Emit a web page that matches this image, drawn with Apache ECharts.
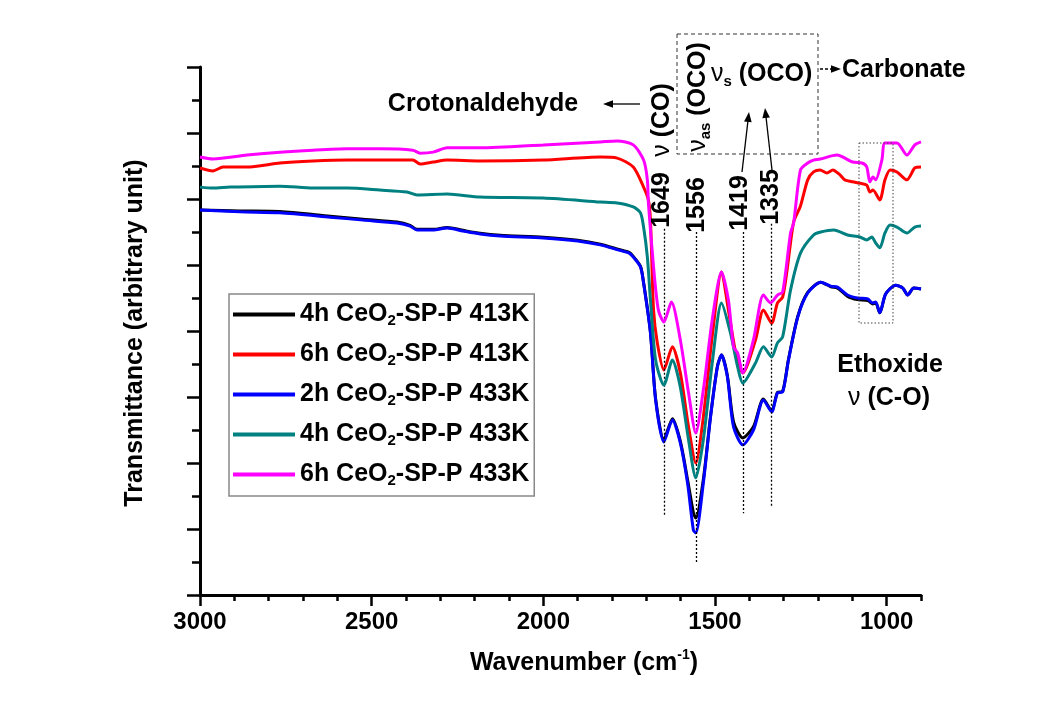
<!DOCTYPE html>
<html>
<head>
<meta charset="utf-8">
<script src="https://cdn.jsdelivr.net/npm/echarts@6/dist/echarts.min.js"></script>
<style>
html,body{margin:0;padding:0;background:#fff;}
#chart{width:1055px;height:707px;}
</style>
</head>
<body>
<div id="chart"></div>
<script>
// ---------- data (wavenumber cm-1, transmittance arbitrary units) ----------
const seriesNames = ['4h CeO2-SP-P 413K', '6h CeO2-SP-P 413K', '2h CeO2-SP-P 433K', '4h CeO2-SP-P 433K', '6h CeO2-SP-P 433K'];
const seriesColors = ['#000000', '#ff0000', '#0000ff', '#008080', '#ff00ff'];

const wnBlue = [3000, 2883, 2767, 2621, 2525, 2426, 2388, 2368, 2321, 2280, 2234, 2184, 2125, 2000, 1900, 1834, 1780, 1750, 1738, 1717, 1708, 1688, 1673, 1649, 1624, 1601, 1580, 1563, 1556, 1534, 1513, 1493, 1481, 1464, 1446, 1419, 1388, 1359, 1335, 1318, 1303, 1286, 1259, 1230, 1192, 1163, 1143, 1114, 1085, 1055, 1041, 1032, 1020, 1003, 974, 953, 939, 921, 900];
const tBlack = [11.67, 11.64, 11.62, 11.48, 11.39, 11.30, 11.20, 11.08, 11.08, 11.14, 11.05, 10.96, 10.90, 10.84, 10.75, 10.63, 10.47, 10.38, 10.26, 9.96, 9.47, 7.96, 5.95, 4.70, 5.34, 4.66, 3.50, 2.50, 2.33, 3.50, 5.42, 6.93, 7.27, 6.65, 5.25, 4.76, 5.10, 5.94, 5.58, 6.14, 6.17, 7.14, 8.44, 9.17, 9.48, 9.34, 9.30, 9.05, 8.95, 8.92, 8.82, 8.85, 8.55, 9.12, 9.39, 9.30, 9.09, 9.30, 9.27];
const tBlue = [11.67, 11.61, 11.58, 11.45, 11.36, 11.27, 11.18, 11.06, 11.06, 11.12, 11.03, 10.94, 10.88, 10.82, 10.73, 10.61, 10.45, 10.36, 10.24, 9.94, 9.45, 7.94, 5.91, 4.64, 5.30, 4.61, 3.39, 1.97, 1.88, 3.39, 5.39, 6.91, 7.27, 6.61, 5.09, 4.55, 5.00, 5.91, 5.55, 6.12, 6.15, 7.12, 8.42, 9.15, 9.48, 9.36, 9.33, 9.09, 9.00, 8.97, 8.85, 8.88, 8.55, 9.12, 9.39, 9.30, 9.09, 9.30, 9.27];

const wnRed = [3000, 2962, 2933, 2863, 2767, 2671, 2571, 2476, 2380, 2359, 2321, 2280, 2184, 2000, 1834, 1785, 1738, 1708, 1694, 1688, 1679, 1668, 1649, 1624, 1601, 1577, 1556, 1534, 1507, 1481, 1461, 1440, 1419, 1382, 1359, 1335, 1318, 1303, 1290, 1271, 1251, 1230, 1213, 1194, 1174, 1157, 1136, 1122, 1099, 1078, 1058, 1049, 1040, 1020, 1005, 990, 970, 941, 918, 900];
const tRed = [12.94, 12.85, 12.97, 12.97, 13.09, 13.15, 13.18, 13.18, 13.18, 13.06, 13.12, 13.18, 13.15, 13.18, 13.27, 13.24, 12.97, 12.36, 11.97, 11.36, 8.64, 7.64, 6.82, 7.52, 6.73, 5.09, 4.00, 5.39, 7.94, 9.79, 8.64, 7.36, 6.73, 7.73, 8.64, 8.24, 8.85, 9.03, 9.85, 11.30, 11.79, 12.58, 12.82, 12.88, 12.79, 12.88, 12.73, 12.58, 12.52, 12.48, 12.42, 12.21, 12.27, 11.97, 12.58, 12.88, 12.82, 12.58, 12.94, 12.97];

const wnTeal = [3000, 2962, 2913, 2767, 2671, 2571, 2476, 2397, 2368, 2280, 2184, 2000, 1834, 1785, 1738, 1717, 1708, 1697, 1688, 1673, 1649, 1624, 1601, 1577, 1556, 1534, 1507, 1481, 1455, 1434, 1419, 1382, 1359, 1335, 1318, 1303, 1280, 1251, 1213, 1192, 1154, 1114, 1078, 1058, 1043, 1034, 1020, 1005, 990, 970, 941, 918, 900];
const tTeal = [12.36, 12.33, 12.36, 12.39, 12.33, 12.33, 12.27, 12.21, 12.12, 12.15, 12.06, 12.03, 11.91, 11.88, 11.76, 11.58, 11.15, 10.24, 8.94, 7.12, 6.36, 7.12, 6.30, 4.70, 3.55, 4.70, 7.12, 8.85, 7.94, 6.91, 6.42, 7.03, 7.52, 7.21, 7.64, 7.82, 9.24, 10.36, 10.91, 11.00, 11.06, 10.91, 10.85, 10.76, 10.85, 10.70, 10.52, 10.97, 11.21, 11.15, 10.97, 11.15, 11.18];

const wnMagenta = [3000, 2962, 2863, 2767, 2671, 2571, 2476, 2380, 2359, 2321, 2280, 2184, 2000, 1834, 1785, 1738, 1708, 1697, 1694, 1679, 1665, 1649, 1627, 1601, 1577, 1556, 1534, 1507, 1481, 1461, 1446, 1434, 1419, 1388, 1359, 1338, 1318, 1303, 1280, 1271, 1251, 1230, 1213, 1194, 1145, 1099, 1072, 1058, 1049, 1040, 1032, 1014, 1005, 970, 941, 918, 900];
const tMagenta = [13.27, 13.21, 13.33, 13.42, 13.48, 13.52, 13.52, 13.48, 13.39, 13.42, 13.55, 13.55, 13.64, 13.73, 13.76, 13.64, 13.18, 12.58, 11.88, 9.94, 8.64, 8.27, 8.88, 7.73, 6.12, 4.91, 6.21, 8.42, 9.79, 8.94, 7.52, 7.33, 6.73, 7.73, 9.09, 8.85, 9.09, 9.18, 10.97, 11.27, 12.88, 13.09, 13.18, 13.21, 13.33, 13.12, 13.09, 12.97, 12.52, 12.67, 12.58, 13.18, 13.70, 13.70, 13.33, 13.64, 13.73];

// peak markers: wavenumber and vertical extent (data units) of dotted guide lines
const peakWn = [1649, 1556, 1419, 1335];
const peakTop = [11.1, 11.0, 11.0, 11.25];
const peakBottom = [2.42, 1.0, 2.48, 2.67];
const peakLabels = ['1649', '1556', '1419', '1335'];

// tick values
const xMajorTicks = [1000, 1500, 2000, 2500, 3000];
const xMinorTicks = [900, 1000, 1100, 1200, 1300, 1400, 1500, 1600, 1700, 1800, 1900, 2000, 2100, 2200, 2300, 2400, 2500, 2600, 2700, 2800, 2900, 3000];

// ---------- chart ----------
const FF = '"Liberation Sans", Arial, Helvetica, sans-serif';
const zip = (a, b) => a.map((w, i) => [w, b[i]]);
const seriesData = [zip(wnBlue, tBlack), zip(wnRed, tRed), zip(wnBlue, tBlue), zip(wnTeal, tTeal), zip(wnMagenta, tMagenta)];

const chart = echarts.init(document.getElementById('chart'), null, {renderer: 'canvas'});

function arrow(x1, y1, x2, y2, dash) {
  const a = Math.atan2(y2 - y1, x2 - x1);
  const L = 10, W = 3.8;
  const c = Math.cos(a), s = Math.sin(a);
  const bx = x2 - L * c, by = y2 - L * s;
  return [
    {type: 'line', z: 100, shape: {x1: x1, y1: y1, x2: bx + 2 * c, y2: by + 2 * s},
     style: {stroke: '#000', lineWidth: 1.3, lineDash: dash || null}},
    {type: 'polygon', z: 100, shape: {points: [[x2, y2], [bx - W * s, by + W * c], [bx + W * s, by - W * c]]},
     style: {fill: '#000'}}
  ];
}

function txt(x, y, text, opts) {
  opts = opts || {};
  return {
    type: 'text', z: 100, x: x, y: y, rotation: opts.rot || 0,
    style: Object.assign({
      text: text, fill: '#000', font: 'bold 25px ' + FF,
      align: opts.align || 'center', verticalAlign: 'middle'
    }, opts.style || {})
  };
}

const richNu = {
  n: {fontFamily: FF, fontWeight: 'normal', fontSize: 25, fill: '#000', lineHeight: 30},
  m: {fontFamily: FF, fontWeight: 'bold', fontSize: 25, fill: '#000', lineHeight: 30},
  s: {fontFamily: FF, fontWeight: 'bold', fontSize: 15, fill: '#000', lineHeight: 15, verticalAlign: 'bottom'}
};

const graphics = [];
// axis titles
graphics.push(txt(135, 333, 'Transmittance (arbitrary unit)', {rot: Math.PI / 2}));
graphics.push({
  type: 'text', z: 100, x: 584, y: 663,
  style: {text: '{t|Wavenumber (cm}{sup|-1}{t|)}', align: 'center', verticalAlign: 'middle',
    rich: {t: {fontFamily: FF, fontWeight: 'bold', fontSize: 25, fill: '#000', lineHeight: 30},
           sup: {fontFamily: FF, fontWeight: 'bold', fontSize: 14, fill: '#000', lineHeight: 14, verticalAlign: 'top'}}}
});
// Crotonaldehyde
graphics.push(txt(483, 104, 'Crotonaldehyde'));
graphics.push(...arrow(640, 104, 603, 104));
// nu(CO)
graphics.push({type: 'text', z: 100, x: 662, y: 120, rotation: Math.PI / 2,
  style: {text: '{n|ν}{m| (CO)}', align: 'center', verticalAlign: 'middle', rich: richNu}});
// peak labels
const peakLabelPx = [[662, 200], [697, 205], [740, 203], [771, 197]];
peakLabels.forEach((l, i) => graphics.push(txt(peakLabelPx[i][0], peakLabelPx[i][1], l, {rot: Math.PI / 2})));
// carbonate box
graphics.push({type: 'rect', z: 90, shape: {x: 677, y: 34, width: 141, height: 120},
  style: {fill: 'none', stroke: '#333', lineWidth: 1, lineDash: [4, 3]}});
graphics.push({type: 'text', z: 100, x: 698, y: 97, rotation: Math.PI / 2,
  style: {text: '{n|ν}{s|as}{m| (OCO)}', align: 'center', verticalAlign: 'middle', rich: richNu}});
graphics.push({type: 'text', z: 100, x: 711, y: 74,
  style: {text: '{n|ν}{s|s}{m| (OCO)}', align: 'left', verticalAlign: 'middle', rich: richNu}});
graphics.push(...arrow(742, 172, 749, 112));
graphics.push(...arrow(772, 170, 765, 108));
graphics.push(...arrow(820, 69, 841, 69, [3, 2]));
graphics.push(txt(842, 70, 'Carbonate', {align: 'left'}));
// ethoxide box
graphics.push({type: 'rect', z: 90, shape: {x: 859, y: 143, width: 34, height: 180},
  style: {fill: 'none', stroke: '#444', lineWidth: 1, lineDash: [1.5, 2]}});
graphics.push(txt(890, 365, 'Ethoxide'));
graphics.push({type: 'text', z: 100, x: 889, y: 398,
  style: {text: '{n|ν}{m| (C-O)}', align: 'center', verticalAlign: 'middle', rich: richNu}});

const option = {
  animation: false,
  backgroundColor: '#ffffff',
  grid: {left: 200, right: 134, top: 67, bottom: 112, containLabel: false, outerBoundsMode: 'none'},
  legend: {
    orient: 'vertical', left: 229, top: 294,
    data: seriesNames,
    icon: 'rect', itemWidth: 62, itemHeight: 4, itemGap: 14,
    padding: [8, 5, 8, 4],
    borderColor: '#888', borderWidth: 1.5,
    backgroundColor: '#fff',
    selectedMode: false,
    formatter: function (name) {
      const p = name.split('O2');
      return '{m|' + p[0] + 'O}{sub|2}{m|' + p[1] + '}';
    },
    textStyle: {
      fontFamily: FF, fontWeight: 'bold', fontSize: 25, color: '#000',
      rich: {
        m: {fontFamily: FF, fontWeight: 'bold', fontSize: 25, color: '#000', lineHeight: 27},
        sub: {fontFamily: FF, fontWeight: 'bold', fontSize: 15, color: '#000', lineHeight: 15, verticalAlign: 'bottom'}
      }
    }
  },
  xAxis: [{
    type: 'value', min: 900, max: 3000, inverse: true, position: 'bottom',
    axisLine: {show: true, onZero: false, lineStyle: {color: '#000', width: 3}},
    axisTick: {show: true, inside: false, length: 11, customValues: xMajorTicks, lineStyle: {color: '#000', width: 2.5}},
    axisLabel: {show: true, customValues: xMajorTicks, margin: 15, color: '#000',
      fontFamily: FF, fontWeight: 'bold', fontSize: 24,
      formatter: function (v) { return String(v); }},
    splitLine: {show: false}
  }, {
    type: 'value', min: 900, max: 3000, inverse: true, position: 'bottom', offset: 0,
    axisLine: {show: false, onZero: false},
    axisTick: {show: true, inside: false, length: 6, customValues: xMinorTicks, lineStyle: {color: '#000', width: 2.5}},
    axisLabel: {show: false},
    splitLine: {show: false}
  }],
  yAxis: {
    type: 'value', min: 0, max: 16, interval: 2,
    axisLine: {show: true, onZero: false, lineStyle: {color: '#000', width: 3}},
    axisTick: {show: true, inside: false, length: 13, lineStyle: {color: '#000', width: 2.5}},
    minorTick: {show: true, splitNumber: 2, length: 8, lineStyle: {color: '#000', width: 2.5}},
    axisLabel: {show: false},
    splitLine: {show: false}
  },
  series: seriesNames.map((n, i) => {
    const s = {
      name: n, type: 'line', xAxisIndex: 0, data: seriesData[i],
      showSymbol: false, smooth: 0.25, color: seriesColors[i],
      lineStyle: {color: seriesColors[i], width: 3},
      z: 2 + i
    };
    if (i === 0) {
      s.markLine = {
        silent: true, symbol: ['none', 'none'], label: {show: false},
        lineStyle: {color: '#000', width: 1.3, type: [2, 2]},
        data: peakWn.map((w, k) => [{coord: [w, peakTop[k]]}, {coord: [w, peakBottom[k]]}])
      };
    }
    return s;
  }),
  graphic: graphics
};
chart.setOption(option);
</script>
</body>
</html>
